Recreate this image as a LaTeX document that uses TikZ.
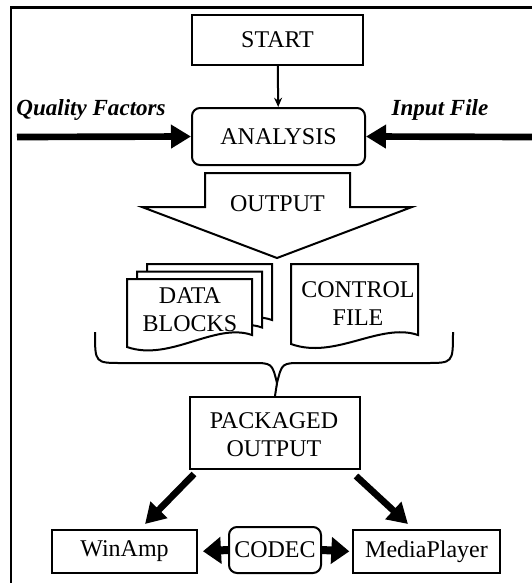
\documentclass[tikz,border=0pt]{standalone}
\RequirePackage{fontspec}
\setmainfont{Liberation Serif}
\RequirePackage{tikz}
\usetikzlibrary{arrows.meta}

\begin{document}
\begin{tikzpicture}[>=stealth,x=0.75pt,y=-0.75pt,
        box/.style={draw,line width=1.5pt,fill=white,inner sep=0pt,align=center,
            font=\fontsize{18}{21}\selectfont},
        rbox/.style={box,rounded corners=6pt},
        txt/.style={inner sep=0pt,align=center,font=\fontsize{18}{21}\selectfont},
        fat/.style={line width=5pt,-{Triangle[length=15pt,width=17pt]}},
        fatside/.style={line width=6pt,-{Triangle[length=13.5pt,width=19.5pt]}},
        sheet/.style={draw,line width=1.5pt,fill=white,line join=miter}]
                        \useasboundingbox (0,0) rectangle (532,583);
                        % frame
                        \draw[line width=1.6pt] (11,583) -- (11,7.5) -- (532,7.5);
                        % top part
                        \node[box,minimum width=128.25pt,minimum height=37.5pt] (start) at (277.5,40) {START};
                        \node[rbox,minimum width=129.75pt,minimum height=42.75pt] (analysis) at (278.5,136.5) {ANALYSIS};
                        \draw[-{Stealth[length=7pt,width=6pt]},line width=1.5pt] (start) -- (analysis);
                        \node[txt,font=\fontsize{17.3}{21}\selectfont\bfseries\itshape] (quality) at (91,110) {Quality Factors};
                        \node[txt,font=\fontsize{17.3}{21}\selectfont\bfseries\itshape] (infile) at (440,110) {Input File};
                        \coordinate (qleft) at (17,137);
                        \coordinate (iright) at (532,137);
                        \draw[fat] (qleft) -- (analysis.west);
                        \draw[fat] (iright) -- (analysis.east);
                        % big output arrow
                        \draw[sheet] (205,173) -- (350,173) -- (350,207) -- (412,207) -- (277,258)
                            -- (142,207) -- (205,207) -- cycle;
                        \node[txt] (output) at (277.5,204) {OUTPUT};
                        % data blocks, three sheets
                        \foreach \d in {2,1,0}
                            \draw[sheet,shift={({10*\d},{-7.5*\d})}] (127,279) -- (252,279) -- (252,335)
                                .. controls (215,322) and (170,362) .. (127,347) -- cycle;
                        \node[txt] (data) at (190,309.5) {DATA\\BLOCKS};
                        \draw[sheet] (291,264) -- (418,264) -- (418,335)
                            .. controls (380,322) and (335,360) .. (291,344) -- cycle;
                        \node[txt] (control) at (358,303.5) {CONTROL\\FILE};
                        % brace
                        \coordinate (tip) at (277,383);
                        \draw[line width=1.5pt] (95,332) .. controls (95,363) .. (122,363) -- (252,363)
                            .. controls (272,363) .. (tip) .. controls (282,363) .. (302,363)
                            -- (426,363) .. controls (453,363) .. (453,332);
                        \node[box,minimum width=127.5pt,minimum height=54pt] (pack) at (275,433) {};
                        \node[txt] (packtxt) at (274,435) {PACKAGED\\OUTPUT};
                        \draw[line width=1.5pt] (tip) -- (pack.north);
                        % players
                        \node[box,minimum width=108.75pt,minimum height=32.25pt] (winamp) at (124.5,551.5) {WinAmp};
                        \node[rbox,minimum width=69pt,minimum height=34.5pt] (codec) at (275,550) {CODEC};
                        \node[box,minimum width=110.25pt,minimum height=32.25pt] (player) at (426.5,551.5) {MediaPlayer};
                        \draw[fat] ([xshift=3.75pt,yshift=-3pt]pack.south west) -- ([xshift=15.4pt,yshift=3.75pt]winamp.north);
                        \draw[fat] ([xshift=-3.75pt,yshift=-4.5pt]pack.south east) -- ([xshift=-13.9pt,yshift=3.75pt]player.north);
                        \draw[fatside,shorten >=3.75pt] (codec.west) -- (winamp.east);
                        \draw[fatside,shorten >=2pt] (codec.east) -- (player.west);
                    \end{tikzpicture}
\end{document}
